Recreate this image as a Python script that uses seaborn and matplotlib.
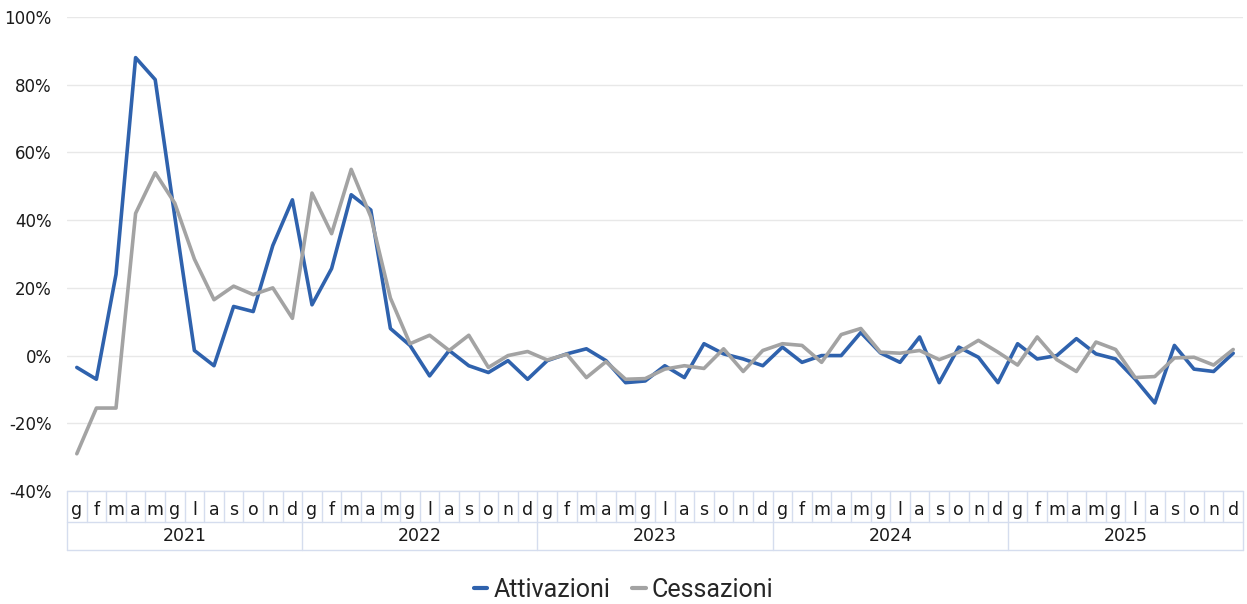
import seaborn as sns
import matplotlib.pyplot as plt
import matplotlib.transforms as mtransforms
from matplotlib.lines import Line2D
import pandas as pd
import numpy as np

sns.set_style("white")
plt.rcParams["font.family"] = ["DejaVu Sans"]

# dati (variazione % tendenziale)
anni = ["2021", "2022", "2023", "2024", "2025"]
mesi = ["g", "f", "m", "a", "m", "g", "l", "a", "s", "o", "n", "d"]

attivazioni = [
    -3.5, -7, 24, 88, 81.5, 41, 1.5, -3, 14.5, 13, 32.5, 46,
    15, 25.7, 47.5, 43, 8, 3, -6, 1.5, -3, -5, -1.5, -7,
    -1.5, 0.5, 2, -1.5, -8, -7.5, -3, -6.5, 3.5, 0.5, -1, -3,
    2.5, -2, 0, 0, 6.8, 0.8, -2, 5.5, -8, 2.5, -0.5, -8,
    3.5, -1, 0, 5, 0.5, -1, -7, -14, 3, -4, -4.7, 0.7,
]
cessazioni = [
    -29, -15.5, -15.5, 42, 54, 45, 28.5, 16.5, 20.5, 18, 20, 11,
    48, 36, 55, 41, 17, 3.5, 6, 1.5, 6, -3.5, 0, 1.2,
    -1.3, 0.4, -6.5, -1.8, -7, -6.8, -4, -3, -3.8, 2, -4.7, 1.5,
    3.5, 3, -2, 6.2, 8, 1, 0.7, 1.5, -1.2, 1, 4.5, 1,
    -2.8, 5.5, -1.2, -4.7, 4, 1.8, -6.5, -6.2, -0.7, -0.5, -2.8, 1.8,
]

n = len(attivazioni)
df = pd.DataFrame({
    "pos": list(range(n)) * 2,
    "valore": np.array(attivazioni + cessazioni) / 100,
    "serie": ["Attivazioni"] * n + ["Cessazioni"] * n,
})

W, H = 1247, 604
fig = plt.figure(figsize=(W / 100, H / 100), dpi=100)
ax = fig.add_axes([67 / W, 1 - 491 / H, 1176 / W, 474 / H])

sns.lineplot(data=df, x="pos", y="valore", hue="serie",
             palette={"Attivazioni": "#2F62AD", "Cessazioni": "#A3A3A3"},
             linewidth=2.6, ax=ax, legend=False)

ax.set_xlim(-0.5, n - 0.5)
ax.set_ylim(-0.4, 1.0)
yt = np.arange(-0.4, 1.01, 0.2)
ax.set_yticks(yt)
ax.set_yticklabels([f"{int(round(v * 100))}%" for v in yt], fontsize=12, color="#1a1a1a")
ax.tick_params(axis="y", length=0, pad=11)
ax.grid(axis="y", color="#E8E8E8", linewidth=1)
ax.set_axisbelow(True)
for s in ax.spines.values():
    s.set_visible(False)
ax.set_xlabel("")
ax.set_ylabel("")

# etichette mesi
ax.set_xticks(range(n))
ax.set_xticklabels(mesi * len(anni), fontsize=12.5, color="#1a1a1a")
ax.tick_params(axis="x", length=0, pad=7)

# tabella categorie sotto l'asse
trans = mtransforms.blended_transform_factory(ax.transData, ax.transAxes)
bc = "#D5DDEE"
r1 = -31 / 474
r2 = -59 / 474
for i in range(n + 1):
    bottom = r2 if i % 12 == 0 else r1
    ax.plot([i - 0.5, i - 0.5], [0, bottom], transform=trans, color=bc,
            linewidth=1, clip_on=False)
for yy in (0, r1, r2):
    ax.plot([-0.5, n - 0.5], [yy, yy], transform=trans, color=bc,
            linewidth=1, clip_on=False)
for k, anno in enumerate(anni):
    ax.text(12 * k + 5.5, -45 / 474, anno, transform=trans, ha="center",
            va="center", fontsize=12.5, color="#1a1a1a")

# legenda
handles = [Line2D([], [], color="#2F62AD", linewidth=3),
           Line2D([], [], color="#A3A3A3", linewidth=3)]
fig.legend(handles, ["Attivazioni", "Cessazioni"], loc="center",
           bbox_to_anchor=(0.5, 1 - 590 / H), ncol=2, frameon=False,
           handlelength=0.55, handletextpad=0.25, columnspacing=0.85,
           prop={"family": "Roboto", "size": 18})

plt.savefig("out.png", dpi=100)
